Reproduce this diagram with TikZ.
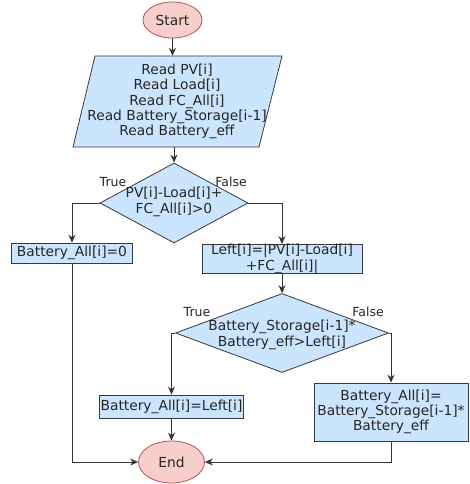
\documentclass[tikz,border=0pt]{standalone}
\usepackage{fontspec}
\setmainfont{DejaVu Sans}
\usetikzlibrary{shapes.geometric,arrows.meta}
\definecolor{boxfill}{HTML}{CCE5FF}
\definecolor{boxline}{HTML}{36393D}
\definecolor{termfill}{HTML}{F8CECC}
\definecolor{termline}{HTML}{B85450}
\definecolor{wire}{HTML}{333333}
\begin{document}
\begin{tikzpicture}[x=1pt,y=-1pt,
  every node/.style={font=\fontsize{13.8}{15.3}\selectfont, text=black!85},
  term/.style={ellipse, draw=termline, fill=termfill, line width=0.8pt, inner sep=0},
  proc/.style={rectangle, draw=boxline, fill=boxfill, line width=0.8pt, inner sep=0, align=center},
  dec/.style={diamond, draw=boxline, fill=boxfill, line width=0.8pt, inner sep=0},
  txt/.style={align=center, inner sep=0},
  lbl/.style={font=\fontsize{12.5}{14}\selectfont, inner sep=0},
  arr/.style={draw=wire, line width=0.9pt, -{Stealth[length=8pt,width=7pt]}},
]
\useasboundingbox (0,0) rectangle (470,484);

% terminals
\node[term, minimum width=59, minimum height=36] (start) at (172.5,20) {Start};
\node[term, minimum width=66, minimum height=42] (end) at (171.5,462) {End};

% input parallelogram
\path[draw=boxline, fill=boxfill, line width=0.8pt]
  (95,56) -- (282,56) -- (259,147) -- (73,147) -- cycle;
\node[txt, minimum height=91] (read) at (177,101.5)
  {Read PV[i]\\Read Load[i]\\Read FC\_All[i]\\Read Battery\_Storage[i-1]\\Read Battery\_eff};

% first decision
\node[dec, minimum width=148, minimum height=80] (d1) at (174,203) {};
\node[txt] (d1t) at (174,202) {PV[i]-Load[i]+\\FC\_All[i]>0};
\node[lbl] (d1y) at (113,182) {True};
\node[lbl] (d1n) at (231,182) {False};

\node[proc, minimum width=121, minimum height=20] (b0) at (72,253) {Battery\_All[i]=0};
\node[proc, minimum width=160, minimum height=28] (b1) at (282,259) {Left[i]=|PV[i]-Load[i]\\+FC\_All[i]|};

% second decision
\node[dec, minimum width=213, minimum height=79] (d2) at (282,333) {};
\node[txt] (d2t) at (282,335) {Battery\_Storage[i-1]*\\Battery\_eff>Left[i]};
\node[lbl] (d2y) at (197,312) {True};
\node[lbl] (d2n) at (368,312) {False};

\node[proc, minimum width=144, minimum height=23] (b2) at (171.5,406.5) {Battery\_All[i]=Left[i]};
\node[proc, minimum width=154, minimum height=58] (b3) at (391,412) {Battery\_All[i]=\\Battery\_Storage[i-1]*\\Battery\_eff};

% connectors
\draw[arr] (start) -- (start |- read.north);
\draw[arr] (d1 |- read.south) -- (d1);
\draw[arr] (d1.west) -| (b0.north);
\draw[arr] (d1.east) -| (b1.north);
\draw[arr] (b1.south) -- (d2.north);
\draw[arr] (d2.west) -| (b2.north);
\draw[arr] (d2.east) -| (b3.north);
\draw[arr] (b2.south) -- (end.north);
\draw[arr] (b0.south) |- (end.west);
\draw[arr] (b3.south) |- (end.east);
\end{tikzpicture}
\end{document}
